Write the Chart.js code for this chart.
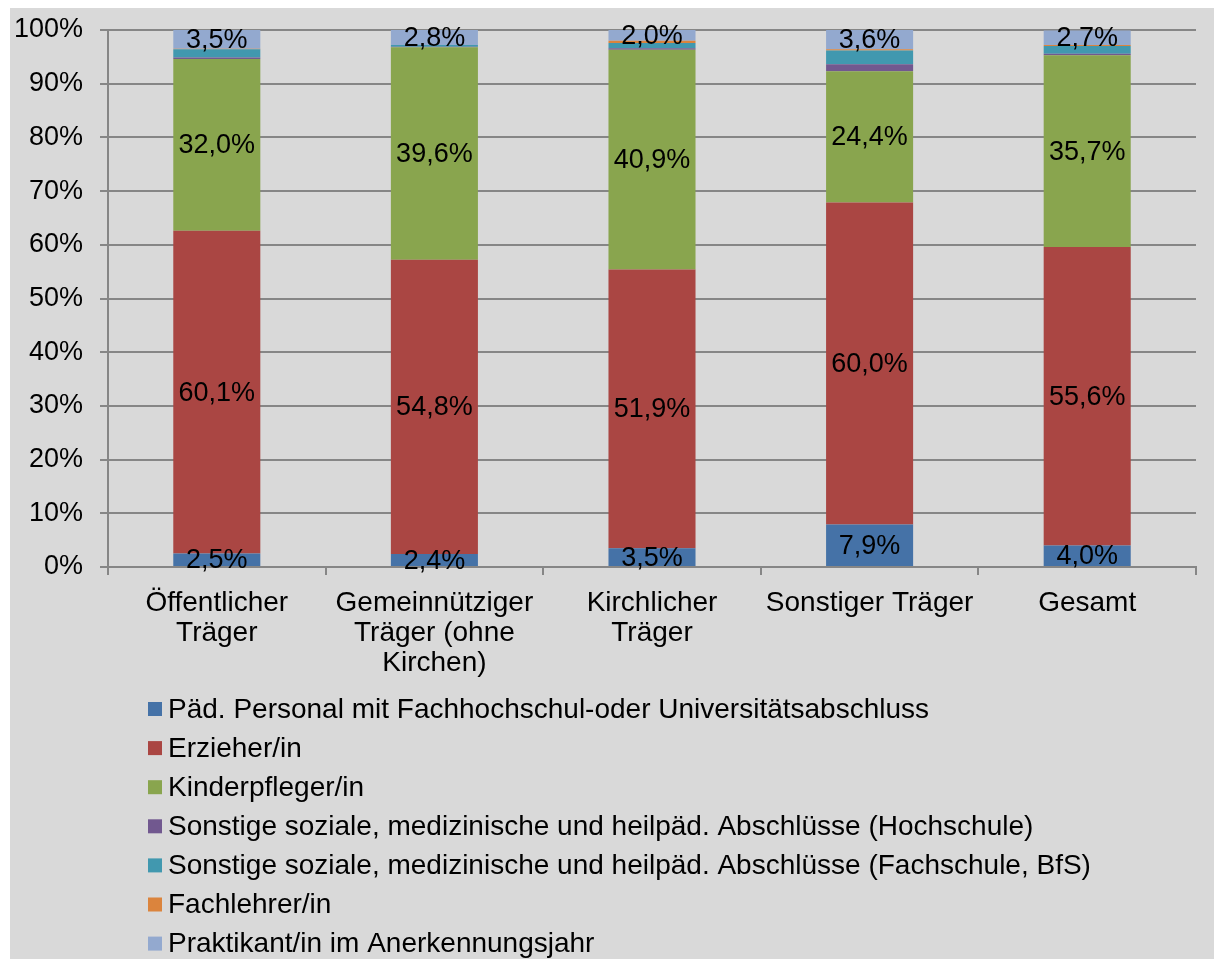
<!DOCTYPE html>
<html>
<head>
<meta charset="utf-8">
<script src="https://cdn.jsdelivr.net/npm/chart.js@4"></script>
<style>
  body { margin: 0; background: #fff; }
  #wrap { position: absolute; left: 10px; top: 8px; width: 1204px; height: 951px; background: #d9d9d9; }
</style>
</head>
<body>
<div id="wrap"><canvas id="chart" width="1204" height="951"></canvas></div>
<script>
const categories = [
  ["Öffentlicher", "Träger"],
  ["Gemeinnütziger", "Träger (ohne", "Kirchen)"],
  ["Kirchlicher", "Träger"],
  ["Sonstiger Träger"],
  ["Gesamt"]
];

const seriesNames = [
  "Päd. Personal mit Fachhochschul-oder Universitätsabschluss",
  "Erzieher/in",
  "Kinderpfleger/in",
  "Sonstige soziale, medizinische und heilpäd. Abschlüsse (Hochschule)",
  "Sonstige soziale, medizinische und heilpäd. Abschlüsse (Fachschule, BfS)",
  "Fachlehrer/in",
  "Praktikant/in im Anerkennungsjahr"
];

const paedPersonal = [2.5, 2.4, 3.5, 7.9, 4.0];
const erzieher = [60.1, 54.8, 51.9, 60.0, 55.6];
const kinderpfleger = [32.0, 39.6, 40.9, 24.4, 35.7];
const sonstigeHochschule = [0.3, 0.1, 0.3, 1.3, 0.3];
const sonstigeFachschule = [1.5, 0.3, 1.0, 2.6, 1.4];
const fachlehrer = [0.1, 0.0, 0.4, 0.2, 0.2];
const praktikant = [3.5, 2.8, 2.0, 3.6, 2.7];

const colors = ["#4572a7", "#aa4643", "#89a54e", "#71588f", "#4198af", "#db843d", "#93a9cf"];
const yTicks = [0, 10, 20, 30, 40, 50, 60, 70, 80, 90, 100];

// nur diese Reihen bekommen Beschriftungen
const labelled = [0, 1, 2, 6];

const FONT = "Liberation Sans, Arial, sans-serif";
const gridColor = "#868686";

const allValues = [paedPersonal, erzieher, kinderpfleger, sonstigeHochschule, sonstigeFachschule, fachlehrer, praktikant];

const datasets = allValues.map((vals, i) => ({
  label: seriesNames[i],
  data: vals,
  backgroundColor: colors[i],
  borderWidth: 0,
  barPercentage: 0.4,
  categoryPercentage: 1.0,
}));

function fmt(v) {
  return v.toFixed(1).replace(".", ",") + "%";
}

const valueLabels = {
  id: "valueLabels",
  afterDatasetsDraw(chart) {
    const ctx = chart.ctx;
    ctx.save();
    ctx.font = "27px " + FONT;
    ctx.fillStyle = "#000";
    ctx.textAlign = "center";
    ctx.textBaseline = "middle";
    labelled.forEach((di) => {
      const meta = chart.getDatasetMeta(di);
      meta.data.forEach((bar, i) => {
        const p = bar.getProps(["x", "y", "base"], true);
        ctx.fillText(fmt(chart.data.datasets[di].data[i]), p.x, (p.y + p.base) / 2 + 1);
      });
    });
    ctx.restore();
  },
};

// Legende untereinander, wie im Original
const listLegend = {
  id: "listLegend",
  afterDraw(chart) {
    const ctx = chart.ctx;
    ctx.save();
    ctx.font = "28px " + FONT;
    ctx.textBaseline = "middle";
    ctx.textAlign = "left";
    chart.data.datasets.forEach((ds, i) => {
      const cy = 701 + i * 39.1;
      ctx.fillStyle = ds.backgroundColor;
      ctx.fillRect(138, cy - 7, 14, 14);
      ctx.fillStyle = "#000";
      ctx.fillText(ds.label, 158, cy + 1);
    });
    ctx.restore();
  },
};

const ctx = document.getElementById("chart").getContext("2d");
new Chart(ctx, {
  type: "bar",
  data: { labels: categories, datasets: datasets },
  options: {
    responsive: false,
    animation: false,
    devicePixelRatio: 1,
    layout: { padding: { top: 22, right: 18, bottom: 0, left: 0 } },
    plugins: {
      legend: { display: false },
      tooltip: { enabled: false },
    },
    scales: {
      x: {
        stacked: true,
        grid: { drawOnChartArea: false, drawTicks: true, tickLength: 8, color: gridColor, lineWidth: 2, offset: true },
        border: { color: gridColor, width: 2 },
        ticks: { font: { family: FONT, size: 28, lineHeight: 1.07 }, color: "#000", padding: 13, maxRotation: 0, autoSkip: false },
        afterFit(scale) { scale.height = 392; },
      },
      y: {
        stacked: true,
        min: 0,
        max: 100,
        afterBuildTicks(scale) { scale.ticks = yTicks.map((v) => ({ value: v })); },
        grid: { color: gridColor, lineWidth: 2, tickLength: 8 },
        border: { color: gridColor, width: 2 },
        ticks: { font: { family: FONT, size: 27 }, color: "#000", padding: 17, callback: (v) => v + "%" },
        afterFit(scale) {
          scale.width = 98;
          scale.paddingTop = 8;
          scale.paddingBottom = 8;
        },
      },
    },
  },
  plugins: [valueLabels, listLegend],
});
</script>
</body>
</html>
